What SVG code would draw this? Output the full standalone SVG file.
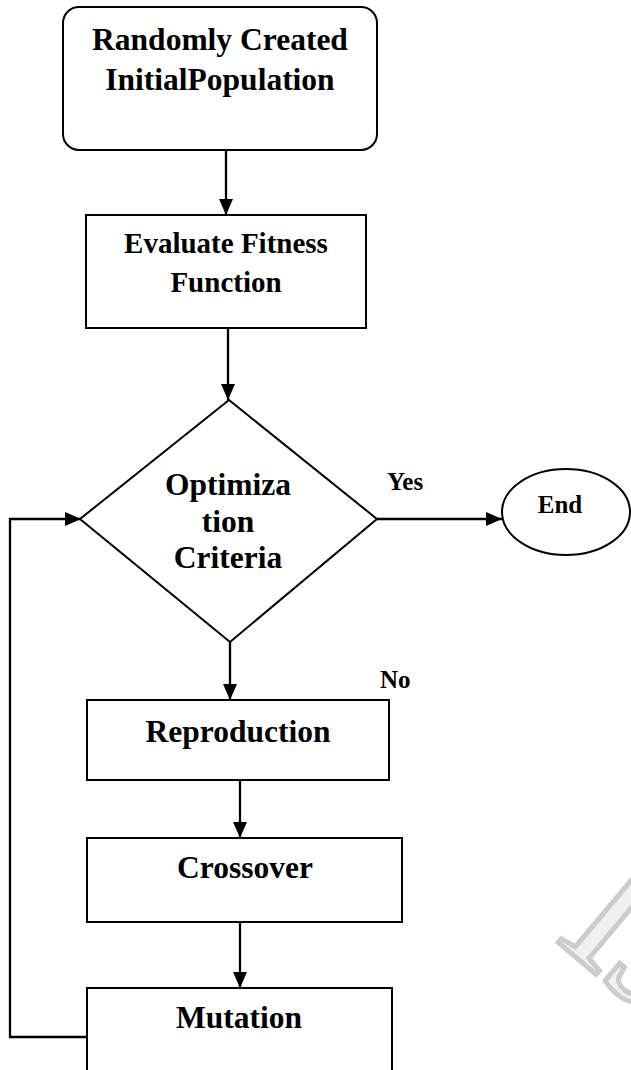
<svg xmlns="http://www.w3.org/2000/svg" width="631" height="1070" viewBox="0 0 631 1070">
<style>
  .shape { fill: #ffffff; stroke: #000000; stroke-width: 2; }
  .conn { fill: none; stroke: #000000; stroke-width: 2.3; }
  .t { font-family: "Liberation Serif", "Times New Roman", serif; font-weight: bold; fill: #000000; }
  .big { font-size: 31.5px; text-anchor: middle; }
  .mid { font-size: 29px; text-anchor: middle; }
  .small { font-size: 25px; }
  .wm { font-family: "Liberation Serif", "Times New Roman", serif; font-size: 190px; fill: #f0f0f0; stroke: #cccccc; stroke-width: 5; }
</style>
<defs>
  <marker id="arrow" markerUnits="userSpaceOnUse" markerWidth="16" markerHeight="14" refX="16" refY="7" orient="auto">
    <path d="M0,0 L16,7 L0,14 z" fill="#000000"/>
  </marker>
</defs>
<rect width="631" height="1070" fill="#ffffff"/>
<g id="watermark">
  <text class="wm" transform="translate(553,938) rotate(40)">IJERT</text>
</g>
<g id="connectors">
  <line class="conn" x1="226" y1="150" x2="226" y2="215" marker-end="url(#arrow)"/>
  <line class="conn" x1="228" y1="328" x2="228" y2="400" marker-end="url(#arrow)"/>
  <line class="conn" x1="230" y1="642" x2="230" y2="700" marker-end="url(#arrow)"/>
  <line class="conn" x1="240" y1="773" x2="240" y2="838" marker-end="url(#arrow)"/>
  <line class="conn" x1="240" y1="922" x2="240" y2="988" marker-end="url(#arrow)"/>
  <line class="conn" x1="377" y1="519" x2="502" y2="519" marker-end="url(#arrow)"/>
  <polyline class="conn" points="87,1037 10,1037 10,519 81,519" marker-end="url(#arrow)"/>
  <text class="t small" x="387" y="490">Yes</text>
  <text class="t small" x="380" y="688">No</text>
</g>
<g id="start">
  <rect class="shape" x="63" y="7" width="314" height="143" rx="16" ry="16"/>
  <text class="t big" x="220" y="50">Randomly Created</text>
  <text class="t big" x="220" y="90">InitialPopulation</text>
</g>
<g id="evaluate">
  <rect class="shape" x="86" y="215" width="280" height="113"/>
  <text class="t mid" x="226" y="253">Evaluate Fitness</text>
  <text class="t mid" x="226" y="292">Function</text>
</g>
<g id="criteria">
  <polygon class="shape" points="229,400 377,519 230,642 80,519"/>
  <text class="t big" x="228" y="495">Optimiza</text>
  <text class="t big" x="228" y="532">tion</text>
  <text class="t big" x="228" y="568">Criteria</text>
</g>
<g id="end">
  <ellipse class="shape" cx="566" cy="512" rx="64" ry="43"/>
  <text class="t small" x="560" y="513" text-anchor="middle">End</text>
</g>
<g id="reproduction">
  <rect class="shape" x="87" y="700" width="302" height="80"/>
  <text class="t big" x="238" y="742">Reproduction</text>
</g>
<g id="crossover">
  <rect class="shape" x="87" y="838" width="315" height="84"/>
  <text class="t big" x="245" y="878">Crossover</text>
</g>
<g id="mutation">
  <rect class="shape" x="87" y="988" width="305" height="100"/>
  <text class="t big" x="239" y="1028">Mutation</text>
</g>
</svg>
